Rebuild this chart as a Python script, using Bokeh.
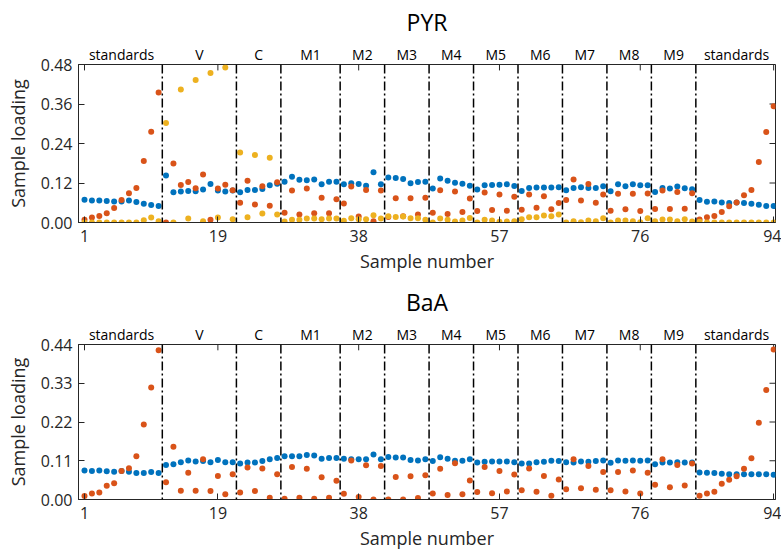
import numpy as np
from bokeh.plotting import figure
from bokeh.models import Range1d, FixedTicker, LinearAxis, Span, PrintfTickFormatter
from bokeh.layouts import column
from bokeh.embed import file_html
from bokeh.resources import INLINE

# ---------------- data ----------------
samples = list(range(1, 95))
x_ticks = [1, 19, 38, 57, 76, 94]

group_names = ["standards", "V", "C", "M1", "M2", "M3", "M4", "M5", "M6",
               "M7", "M8", "M9", "standards"]
group_sizes = [11, 10, 6, 8, 6, 6, 6, 6, 6, 6, 6, 6, 11]

pyr_y_ticks = [0.00, 0.12, 0.24, 0.36, 0.48]
baa_y_ticks = [0.00, 0.11, 0.22, 0.33, 0.44]

pyr_blue = [0.069, 0.067, 0.067, 0.065, 0.064, 0.064, 0.067, 0.062, 0.057, 0.053, 0.050,
            0.143, 0.092, 0.094, 0.096, 0.095, 0.100, 0.117, 0.097, 0.094, 0.097,
            0.092, 0.099, 0.099, 0.102, 0.113, 0.118,
            0.124, 0.139, 0.130, 0.128, 0.131, 0.116, 0.124, 0.124,
            0.116, 0.119, 0.117, 0.112, 0.153, 0.116,
            0.137, 0.135, 0.132, 0.119, 0.123, 0.124,
            0.103, 0.134, 0.127, 0.121, 0.118, 0.112,
            0.100, 0.113, 0.114, 0.115, 0.116, 0.111,
            0.096, 0.105, 0.106, 0.106, 0.106, 0.107,
            0.098, 0.105, 0.107, 0.105, 0.105, 0.110,
            0.095, 0.116, 0.110, 0.116, 0.113, 0.113,
            0.093, 0.105, 0.103, 0.109, 0.104, 0.101,
            0.068, 0.063, 0.064, 0.061, 0.059, 0.061, 0.059, 0.057, 0.054, 0.050, 0.050]

pyr_orange = [0.008, 0.015, 0.020, 0.028, 0.044, 0.068, 0.089, 0.105, 0.187, 0.276, 0.395,
              0.000, 0.179, 0.114, 0.123, 0.104, 0.146, 0.008, 0.103, 0.115, 0.098,
              0.060, 0.127, 0.055, 0.110, 0.051, 0.122,
              0.030, 0.097, 0.024, 0.103, 0.028, 0.075, 0.028, 0.071,
              0.058, 0.109, 0.018, 0.099, 0.004, 0.097,
              0.017, 0.074, 0.019, 0.074, 0.024, 0.075,
              0.030, 0.098, 0.026, 0.094, 0.032, 0.073,
              0.035, 0.091, 0.038, 0.085, 0.036, 0.078,
              0.039, 0.085, 0.045, 0.080, 0.040, 0.059,
              0.068, 0.131, 0.067, 0.117, 0.060, 0.085,
              0.036, 0.087, 0.040, 0.087, 0.035, 0.088,
              0.041, 0.097, 0.041, 0.093, 0.042, 0.089,
              0.009, 0.016, 0.020, 0.032, 0.049, 0.061, 0.083, 0.099, 0.184, 0.275, 0.353]

pyr_yellow = [0.000, 0.000, 0.000, 0.000, 0.000, 0.000, 0.000, 0.000, 0.007, 0.015, 0.004,
              0.302, 0.000, 0.404, 0.012, 0.433, 0.004, 0.454, 0.015, 0.471, 0.010,
              0.213, 0.016, 0.205, 0.027, 0.197, 0.024,
              0.003, 0.008, 0.008, 0.012, 0.012, 0.010, 0.012, 0.012,
              0.005, 0.013, 0.010, 0.010, 0.022, 0.012,
              0.019, 0.017, 0.018, 0.013, 0.013, 0.008,
              0.000, 0.012, 0.008, 0.003, 0.006, 0.014,
              0.000, 0.008, 0.006, 0.002, 0.003, 0.004,
              0.010, 0.016, 0.016, 0.021, 0.019, 0.024,
              0.000, 0.004, 0.001, 0.006, 0.004, 0.013,
              0.000, 0.006, 0.006, 0.004, 0.001, 0.013,
              0.004, 0.009, 0.009, 0.004, 0.010, 0.003,
              0.002, 0.000, 0.000, 0.000, 0.000, 0.000, 0.000, 0.000, 0.000, 0.000, 0.000]

baa_blue = [0.082, 0.081, 0.082, 0.080, 0.079, 0.081, 0.079, 0.075, 0.075, 0.078, 0.075,
            0.098, 0.100, 0.106, 0.111, 0.108, 0.109, 0.106, 0.112, 0.106, 0.106,
            0.102, 0.105, 0.105, 0.109, 0.114, 0.118,
            0.123, 0.123, 0.123, 0.126, 0.125, 0.116, 0.118, 0.118,
            0.116, 0.114, 0.114, 0.114, 0.128, 0.114,
            0.121, 0.119, 0.119, 0.112, 0.111, 0.114,
            0.109, 0.120, 0.116, 0.110, 0.110, 0.114,
            0.105, 0.107, 0.108, 0.108, 0.108, 0.106,
            0.102, 0.102, 0.106, 0.107, 0.110, 0.109,
            0.106, 0.105, 0.108, 0.107, 0.109, 0.111,
            0.104, 0.111, 0.110, 0.111, 0.110, 0.111,
            0.100, 0.105, 0.105, 0.106, 0.105, 0.105,
            0.077, 0.076, 0.075, 0.073, 0.072, 0.072, 0.072, 0.0715, 0.0715, 0.0715, 0.0706]

baa_orange = [0.010, 0.017, 0.020, 0.039, 0.046, 0.081, 0.089, 0.123, 0.213, 0.318, 0.424,
              0.049, 0.150, 0.025, 0.076, 0.025, 0.114, 0.024, 0.067, 0.015, 0.072,
              0.020, 0.091, 0.024, 0.088, 0.005, 0.072,
              0.002, 0.092, 0.005, 0.087, 0.002, 0.063, 0.005, 0.053,
              0.016, 0.111, 0.007, 0.097, 0.000, 0.095,
              0.000, 0.064, 0.000, 0.066, 0.004, 0.069,
              0.017, 0.087, 0.013, 0.103, 0.015, 0.054,
              0.021, 0.092, 0.018, 0.081, 0.023, 0.071,
              0.026, 0.088, 0.022, 0.067, 0.011, 0.057,
              0.029, 0.114, 0.032, 0.095, 0.028, 0.078,
              0.026, 0.078, 0.023, 0.082, 0.017, 0.076,
              0.042, 0.114, 0.035, 0.098, 0.040, 0.102,
              0.011, 0.017, 0.022, 0.045, 0.056, 0.066, 0.087, 0.117, 0.218, 0.311, 0.426]

BLUE, ORANGE, YELLOW = "#0072BD", "#D95319", "#EDB120"
FONT = "Open Sans"
TXT = "#262626"

edges = np.cumsum([0] + group_sizes)
boundaries = [float(b) + 0.5 for b in edges[1:-1]]
centers = [float(a + 1 + b) / 2.0 for a, b in zip(edges[:-1], edges[1:])]

X0, X1 = 0.19, 94.25
FRAME_W, FRAME_H = 697, 160
TICK = 6


def make_panel(title, ymax, yticks, series, height, top, bottom, lab_stand, ax_stand):
    p = figure(width=781, height=height, output_backend="svg", toolbar_location=None,
               x_range=Range1d(X0, X1), y_range=Range1d(0, ymax),
               min_border_left=78, min_border_right=6,
               min_border_top=top, min_border_bottom=bottom,
               x_axis_label="Sample number", y_axis_label="Sample loading",
               title=title)
    p.grid.visible = False
    p.outline_line_color = TXT
    p.outline_line_width = 1
    p.background_fill_color = "white"
    p.border_fill_color = "white"

    p.title.align = "center"
    p.title.text_font = FONT
    p.title.text_font_size = "23px"
    p.title.text_font_style = "normal"
    p.title.text_color = "black"
    p.title.standoff = 7

    for ax in (p.xaxis[0], p.yaxis[0]):
        ax.axis_line_color = TXT
        ax.major_tick_line_color = TXT
        ax.major_tick_in = TICK
        ax.major_tick_out = 0
        ax.minor_tick_line_color = None
        ax.major_label_text_font = FONT
        ax.major_label_text_font_size = "16px"
        ax.major_label_text_color = TXT
        ax.axis_label_text_font = FONT
        ax.axis_label_text_font_size = "18px"
        ax.axis_label_text_font_style = "normal"
        ax.axis_label_text_color = TXT
    p.xaxis[0].ticker = FixedTicker(ticks=x_ticks)
    p.yaxis[0].ticker = FixedTicker(ticks=yticks)
    p.yaxis[0].formatter = PrintfTickFormatter(format="%.2f")
    p.xaxis[0].major_label_standoff = lab_stand
    p.xaxis[0].axis_label_standoff = ax_stand
    p.yaxis[0].major_label_standoff = 6
    p.yaxis[0].axis_label_standoff = 8

    # group names above the frame
    grp_ax = LinearAxis(ticker=FixedTicker(ticks=centers), axis_line_color=None,
                        major_tick_line_color=None, minor_tick_line_color=None,
                        major_tick_in=0, major_tick_out=0,
                        major_label_standoff=1,
                        major_label_overrides={c: n for c, n in zip(centers, group_names)},
                        major_label_text_font=FONT, major_label_text_font_size="14px",
                        major_label_text_color="black")
    p.add_layout(grp_ax, "above")

    # group boundaries
    for b in boundaries:
        p.add_layout(Span(location=b, dimension="height", line_color="black",
                          line_width=1.5, line_dash="9 3 2 3"))

    # mirrored inward ticks on the top and right edges of the box
    dy = ymax * TICK / FRAME_H
    dx = (X1 - X0) * TICK / FRAME_W
    p.segment(x0=x_ticks, y0=[ymax] * len(x_ticks), x1=x_ticks,
              y1=[ymax - dy] * len(x_ticks), line_color=TXT, line_width=1)
    p.segment(x0=[X1] * len(yticks), y0=yticks, x1=[X1 - dx] * len(yticks),
              y1=yticks, line_color=TXT, line_width=1)

    for vals, col in series:
        p.scatter(samples, vals, size=6, fill_color=col, line_color=None)

    return p


p1 = make_panel("PYR", 0.48, pyr_y_ticks,
                [(pyr_blue, BLUE), (pyr_orange, ORANGE), (pyr_yellow, YELLOW)],
                280, 62, 58, 7, 4)
p2 = make_panel("BaA", 0.44, baa_y_ticks,
                [(baa_blue, BLUE), (baa_orange, ORANGE)],
                272, 62, 50, 7, 4)

layout = column(p1, p2)
open("out.html", "w").write(file_html(layout, INLINE))
